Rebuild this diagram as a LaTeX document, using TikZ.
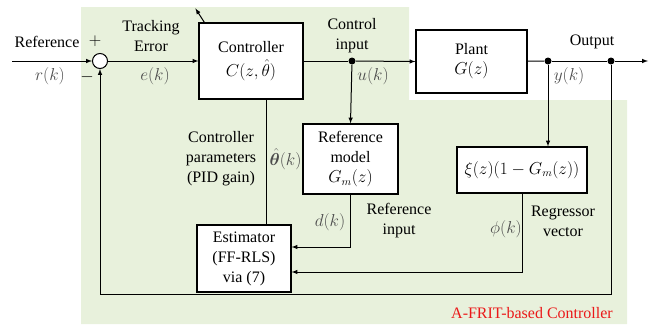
\documentclass[tikz,border=0pt]{standalone}
\usepackage{fontspec}
\setmainfont{Liberation Serif}
\usepackage{amsmath,amssymb,bm}
\usetikzlibrary{arrows, positioning, automata}
\definecolor{fritgreen}{RGB}{232,241,220}
\definecolor{fritred}{RGB}{235,25,25}

\begin{document}
\begin{tikzpicture}[x=1pt,y=-1pt,->,>=latex,line width=1pt]
    \tikzstyle{every state}=[shape=rectangle, fill=white, draw=black, text=black, inner sep=1pt, align=center, line width=1.2pt]
    \tikzstyle{h1}=[shape=rectangle, fill=none, draw=none, text=black, align=center, inner sep=0pt]
    \tikzstyle{sig}=[fill=none, draw=none, text=black!70, inner sep=0pt]
    \tikzstyle{dot}=[circle, fill=black, draw=none, inner sep=0pt, minimum size=7pt]
    \tikzstyle{every node}=[font=\fontsize{16}{20}\selectfont]

    \useasboundingbox (0,0) rectangle (666,324);
    % A-FRIT area
    \fill[-, fritgreen] (81,7) -- (409,7) -- (409,100) -- (627,100) -- (627,324) -- (81,324) -- cycle;

    \node[state, minimum width=104pt, minimum height=76pt]  (ctrl) at (251,61)    {Controller\\[4pt]$C(z,\hat{\theta})$};
    \node[state, minimum width=111pt, minimum height=63pt]  (plant) at (471.5,61.5) {Plant\\$G(z)$};
    \node[state, minimum width=95pt, minimum height=70pt]   (refm) at (350.5,159) {Reference\\model\\$G_m(z)$};
    \node[state, minimum width=130pt, minimum height=46pt]  (xi) at (522,170)    {$\xi(z)(1-G_m(z))$};
    \node[state, minimum width=94pt, minimum height=67pt]   (est) at (244,258.5) {Estimator\\(FF-RLS)\\via (7)};
    \node[circle, draw, fill=white, line width=1pt, minimum size=15pt, inner sep=0pt] (sum) at (100,61) {};

    \node[dot] (udot) at (352,61) {};
    \node[dot] (ydot) at (548,61) {};
    \node[dot] (odot) at (611,61) {};
    \coordinate (rin) at (12,61);
    \coordinate (yout) at (648,61);
    \coordinate (fbk) at (0,294);

    % labels
    \node[h1] (lref)  at (47,42)   {Reference};
    \node[h1] (lplus) at (95,41)   {$+$};
    \node[sig] (lr)   at (50,76)   {$r(k)$};
    \node[h1] (lmin)  at (87,77)   {$-$};
    \node[h1] (lerr)  at (151,36)  {Tracking\\Error};
    \node[sig] (le)   at (155,76)  {$e(k)$};
    \node[h1] (lu0)   at (352,36)  {Control\\input};
    \node[sig] (lu)   at (373,76)  {$u(k)$};
    \node[h1] (lout)  at (592,42)  {Output};
    \node[sig] (ly)   at (569,76)  {$y(k)$};
    \node[h1] (lpar)  at (221,159) {Controller\\parameters\\(PID gain)};
    \node[sig, anchor=west] (lth)  at (269,159) {$\hat{\bm{\theta}}(k)$};
    \node[sig] (ld)   at (330,222) {$d(k)$};
    \node[h1] (lrin)  at (399,221) {Reference\\input};
    \node[sig] (lphi) at (506,229) {$\phi(k)$};
    \node[h1] (lreg)  at (563,221) {Regressor\\vector};
    \node[h1, text=fritred] (lfrit) at (532,313) {A-FRIT-based Controller};

    \path
    (rin)   edge[->]   node{} (sum.west)
    (sum)   edge[->]   node{} (ctrl.west)
    (ctrl)  edge[-]    node{} (udot)
    (udot)  edge[->]   node{} (plant.west)
    (udot)  edge[->]   node{} (refm.north)
    (plant) edge[-]    node{} (ydot)
    (ydot)  edge[-]    node{} (odot)
    (odot)  edge[->]   node{} (yout)
    (ydot)  edge[->]   node{} (ydot |- xi.north)
            ;

    \draw[->] (refm.south) |- ([yshift=11.5pt]est.east);
    \draw[->] (xi.south) |- ([yshift=-13.5pt]est.east);
    \draw[-] ([xshift=15pt]ctrl.south) -- ([xshift=15pt]ctrl.south |- est.north);
    \draw[->] (odot) -- (odot |- fbk) -| (sum.south);
    \draw[->] ([xshift=6pt]ctrl.north west) -- ++(-9,-14);

\end{tikzpicture}
\end{document}
